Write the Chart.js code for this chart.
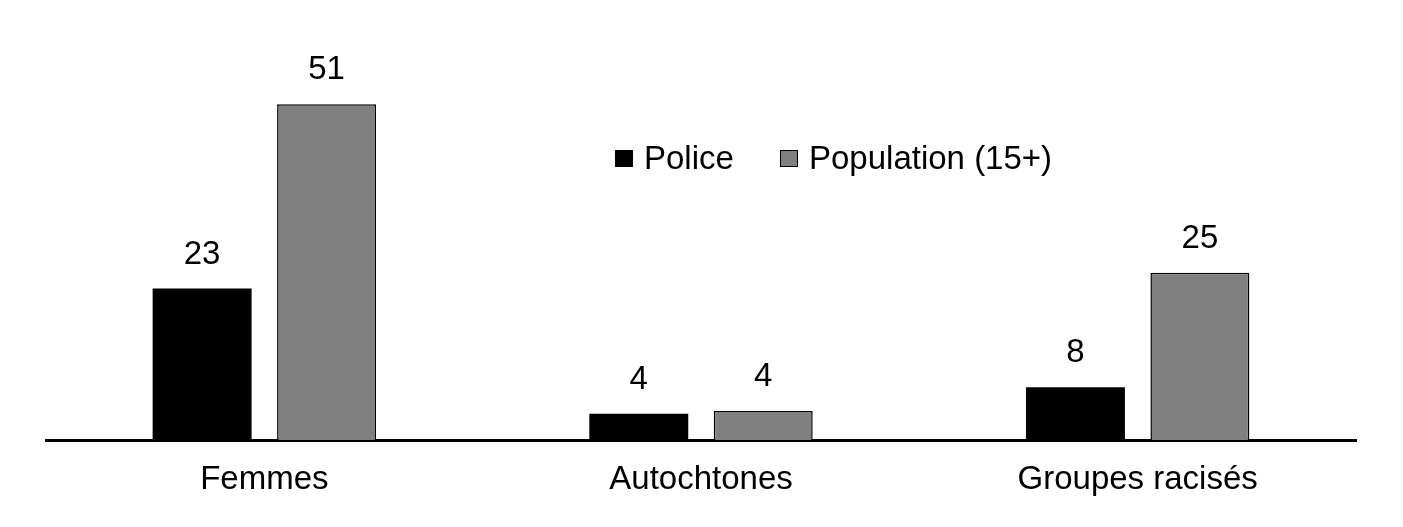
<!DOCTYPE html>
<html lang="fr">
<head>
<meta charset="utf-8">
<script src="https://cdn.jsdelivr.net/npm/chart.js@4/dist/chart.umd.min.js"></script>
<style>
  body{margin:0;background:#fff;}
  #wrap{width:1403px;height:527px;}
</style>
</head>
<body>
<div id="wrap"><canvas id="chart" width="1403" height="527"></canvas></div>
<script>
// =========================
// DATA
// =========================

const categories = ["Femmes", "Autochtones", "Groupes racisés"];
const seriesNames = ["Police", "Population (15+)"];
const police = [23, 4, 8];
const population = [51, 4.4, 25.4];

const FONT = "'Liberation Sans', Arial, sans-serif";

// =========================
// PLUGINS
// =========================

// valeurs au-dessus des barres
const barLabels = {
  id: "barLabels",
  afterDatasetsDraw(chart){
    const ctx = chart.ctx;
    ctx.save();
    ctx.font = "33px " + FONT;
    ctx.fillStyle = "#000";
    ctx.textAlign = "center";
    ctx.textBaseline = "alphabetic";
    chart.data.datasets.forEach((ds, i) => {
      chart.getDatasetMeta(i).data.forEach((bar, j) => {
        ctx.fillText(Math.round(ds.data[j]), bar.x, bar.y - 25);
      });
    });
    ctx.restore();
  }
};

// légende dans la zone du graphique
const innerLegend = {
  id: "innerLegend",
  afterDraw(chart){
    const ctx = chart.ctx;
    const pos = [615, 780];
    const y = 159;
    ctx.save();
    ctx.font = "33px " + FONT;
    ctx.textBaseline = "middle";
    ctx.textAlign = "left";
    chart.data.datasets.forEach((ds, i) => {
      const x = pos[i];
      ctx.fillStyle = ds.backgroundColor;
      ctx.fillRect(x, y - 9, 18, 17);
      ctx.lineWidth = 1;
      ctx.strokeStyle = "#000";
      ctx.strokeRect(x + 0.5, y - 8.5, 17, 16);
      ctx.fillStyle = "#000";
      ctx.fillText(ds.label, x + 29, y + 1);
    });
    ctx.restore();
  }
};

// =========================
// CHART
// =========================

new Chart(document.getElementById("chart"), {
  type: "bar",
  data: {
    labels: categories,
    datasets: [
      {label: seriesNames[0], data: police, backgroundColor: "#000000", borderColor: "#000000", borderWidth: 0},
      {label: seriesNames[1], data: population, backgroundColor: "#808080", borderColor: "#000000", borderWidth: 1.5}
    ]
  },
  options: {
    responsive: false,
    devicePixelRatio: 1,
    animation: false,
    categoryPercentage: 0.57,
    barPercentage: 0.795,
    layout: {padding: {left: 46, right: 47, top: 45, bottom: 0}},
    plugins: {
      legend: {display: false},
      tooltip: {enabled: false}
    },
    scales: {
      y: {display: false, min: 0, max: 60},
      x: {
        grid: {display: false, drawTicks: false},
        border: {display: true, color: "#000", width: 3},
        ticks: {color: "#000", font: {family: FONT, size: 33}, padding: 20},
        afterFit(scale){ scale.height = 87; }
      }
    }
  },
  plugins: [barLabels, innerLegend]
});
</script>
</body>
</html>
